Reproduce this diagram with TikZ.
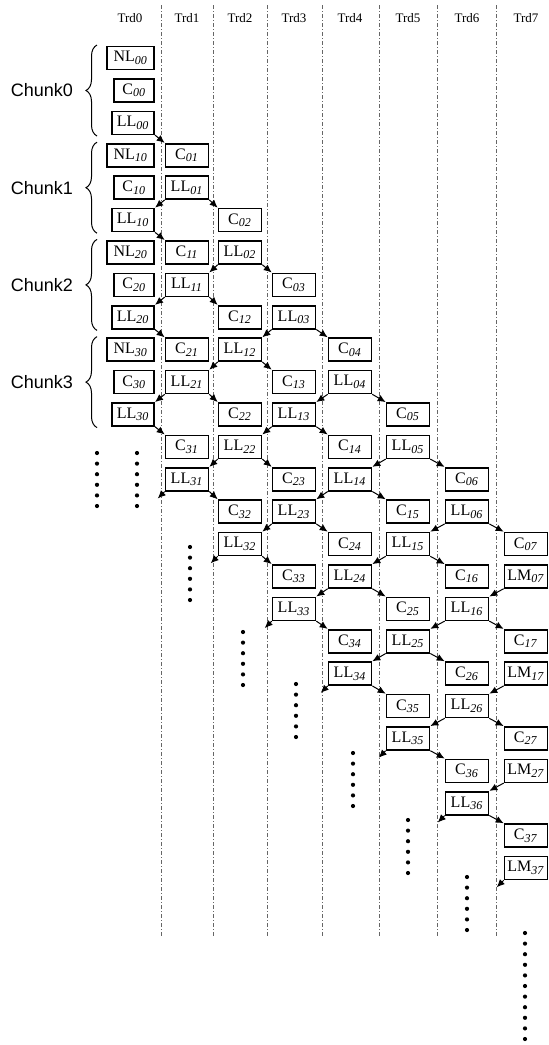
\documentclass[tikz,border=0pt]{standalone}
\usepackage{fontspec}
\setmainfont{Liberation Serif}
\newfontfamily\chunkfont{Liberation Sans}
\usetikzlibrary{arrows.meta,decorations.pathreplacing}
\newcommand{\tsk}[2]{#1\textsubscript{\textit{#2}}}
\tikzset{
  task/.style={rectangle, draw, line width=0.8pt, fill=white, minimum width=21.5pt, minimum height=11.5pt, inner sep=0pt, font=\fontsize{8}{9}\selectfont},
  head/.style={font=\fontsize{6.5}{8}\selectfont},
  lane/.style={line width=0.4pt, black!60, dash pattern=on 2pt off 1pt on 0.5pt off 1pt},
  dep/.style={-{Latex[length=4pt,width=3.5pt]}, line width=0.5pt},
  chunklab/.style={anchor=east, font=\chunkfont\fontsize{9}{10}\selectfont},
  brace/.style={decorate, decoration={brace, amplitude=5.5pt}, line width=0.5pt}
}
\begin{document}
\begin{tikzpicture}[x=0.5pt, y=-0.5pt]
\useasboundingbox (0,0) rectangle (548,1045);

% thread lanes and headers
\foreach \x in {161,213,267,322,379,437,496}
  \draw[lane] (\x,5) -- (\x,937);
\foreach \t/\x in {0/130,1/187,2/240,3/294,4/350,5/408,6/467,7/526}
  \node[head] (trd\t) at (\x,18) {Trd\t};

% thread 0: NL, C, LL for every chunk
\foreach \i in {0,...,3}{
  \pgfmathsetmacro\yr{58+97.2*\i}
  \node[task, anchor=east, minimum width=23.5pt] (nl\i) at (155,\yr) {\tsk{NL}{\i0}};
  \node[task, anchor=east, minimum width=20pt] (c\i0) at (155,\yr+32.4) {\tsk{C}{\i0}};
  \node[task, anchor=east, minimum width=21pt] (ll\i0) at (155,\yr+64.8) {\tsk{LL}{\i0}};
  \draw[brace] (97,\yr+78) -- (97,\yr-13);
  \node[chunklab] (chunk\i) at (80,\yr+32.4) {Chunk\i};
}

% threads 1 to 7: C and LL (LM on the last thread)
\foreach \j/\x in {1/187,2/240,3/294,4/350,5/408,6/467,7/526}
  \foreach \i in {0,...,3}{
    \pgfmathsetmacro\yr{58+32.4*(3*\i+2*\j+1)}
    \ifnum\j=7 \def\lab{LM}\else \def\lab{LL}\fi
    \node[task] (c\i\j) at (\x,\yr) {\tsk{C}{\i\j}};
    \node[task] (ll\i\j) at (\x,\yr+32.4) {\tsk{\lab}{\i\j}};
  }

% dependencies
\foreach \j in {1,...,7}{
  \pgfmathtruncatemacro\jp{\j-1}
  \foreach \i in {0,...,3}
    \draw[dep] (ll\i\jp.south east) -- (c\i\j.north west);
  \foreach \i in {0,1,2}{
    \pgfmathtruncatemacro\inx{\i+1}
    \draw[dep] (ll\i\j.south west) -- (ll\inx\jp.north east);
  }
  \path (ll3\j.south west) ++(-7,7) coordinate (nx\j);
  \draw[dep] (ll3\j.south west) -- (nx\j);
}

% more chunks follow
\foreach \x/\y/\m in {97/453/5,137/453/5,190/547/5,243/632/5,296/684/5,353/753/5,408/820/5,467/877/5,525/933/10}
  \foreach \k in {0,...,\m}
    \fill (\x,\y+10.6*\k) circle (1.05pt);
\end{tikzpicture}
\end{document}
